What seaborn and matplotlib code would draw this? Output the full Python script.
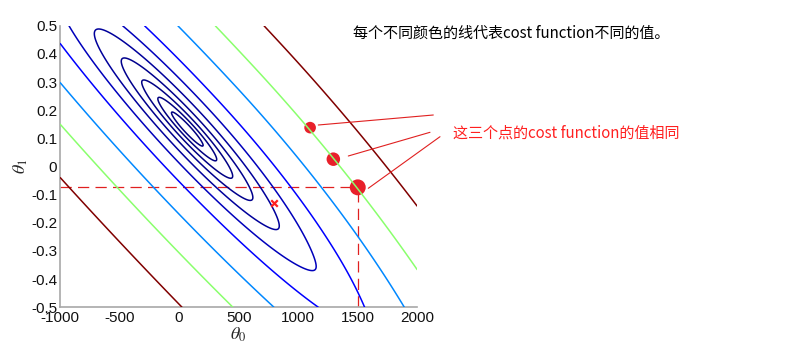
import numpy as np
import pandas as pd
import matplotlib
matplotlib.use("Agg")
import matplotlib.pyplot as plt
import seaborn as sns
from matplotlib.colors import Normalize
from matplotlib.lines import Line2D

# ---------------- data ----------------
theta0_range = [-1000, 2000]
theta1_range = [-0.5, 0.5]
# cost surface J(theta0, theta1), read from the contour shapes:
# centre, long-axis / short-axis coefficients, axis ratio and the slight
# bend of the upper-right flank
cost_center = [69.0, 0.133]
long_axis = [0.08092, -206.6]
short_axis = [-0.08738, -191.3]
axis_ratio = 6.5
bend = 1.3e-4
bend_softness = 4.0
cost_levels = [529, 1832, 4382, 9197, 18225, 36100, 74529, 175561, 350464, 675684]

same_cost_theta0 = [1100, 1295, 1500]
same_cost_theta1 = [0.138, 0.026, -0.074]
same_cost_size = [69, 94, 132]
min_theta0 = [800]
min_theta1 = [-0.13]

xticks = [-1000, -500, 0, 500, 1000, 1500, 2000]
xtick_labels = ["-1000", "-500", "0", "500", "1000", "1500", "2000"]
yticks = [-0.5, -0.4, -0.3, -0.2, -0.1, 0, 0.1, 0.2, 0.3, 0.4, 0.5]
ytick_labels = ["-0.5", "-0.4", "-0.3", "-0.2", "-0.1", "0", "0.1", "0.2", "0.3", "0.4", "0.5"]

note_top = "每个不同颜色的线代表cost function不同的值。"
note_red = "这三个点的cost function的值相同"

# ---------------- style ----------------
sns.set_theme(style="white")
plt.rcParams["font.family"] = ["Liberation Sans", "DejaVu Sans"]
plt.rcParams["axes.unicode_minus"] = False
plt.rcParams["mathtext.fontset"] = "stix"

W, H = 812, 346
fig = plt.figure(figsize=(W / 100, H / 100), dpi=100)
ax = fig.add_axes([60 / W, 1 - 307.3 / H, (417.3 - 60) / W, (307.3 - 25.7) / H])

# contour grid
t0 = np.linspace(theta0_range[0], theta0_range[1], 700)
t1 = np.linspace(theta1_range[0], theta1_range[1], 700)
T0, T1 = np.meshgrid(t0, t1)
d0 = T0 - cost_center[0]
d1 = T1 - cost_center[1]
s = long_axis[0] * d0 + long_axis[1] * d1
t = short_axis[0] * d0 + short_axis[1] * d1
upper = 1.0 / (1.0 + np.exp(np.clip(t / bend_softness, -50, 50)))
t_eff = t - bend * np.maximum(s, 0) ** 2 * upper
J = s ** 2 + axis_ratio ** 2 * t_eff ** 2

ax.contour(T0, T1, J, levels=cost_levels, cmap="jet",
           norm=Normalize(vmin=min(cost_levels), vmax=max(cost_levels)),
           linewidths=1.1, zorder=3)

# dashed guide lines to the third point
guide_h = pd.DataFrame({"x": [theta0_range[0], same_cost_theta0[2]],
                        "y": [same_cost_theta1[2], same_cost_theta1[2]]})
guide_v = pd.DataFrame({"x": [same_cost_theta0[2], same_cost_theta0[2]],
                        "y": [theta1_range[0], same_cost_theta1[2]]})
for g in (guide_h, guide_v):
    sns.lineplot(data=g, x="x", y="y", ax=ax, color="#e02020", lw=0.9,
                 dashes=False, sort=False, estimator=None, zorder=2)
for l in ax.lines:
    l.set_dashes((9, 5))

# the three equal-cost points
pts = pd.DataFrame({"t0": same_cost_theta0, "t1": same_cost_theta1,
                    "sz": same_cost_size})
sns.scatterplot(data=pts, x="t0", y="t1", size="sz", sizes=(70, 132),
                color="#e8202a", edgecolor="none", legend=False, ax=ax, zorder=2)

# minimum marker
sns.scatterplot(x=min_theta0, y=min_theta1, marker="x", s=22, color="#ff2020",
                linewidth=1.6, ax=ax, zorder=4, legend=False)

ax.set_xlim(theta0_range)
ax.set_ylim(theta1_range)
ax.set_xticks(xticks)
ax.set_xticklabels(xtick_labels)
ax.set_yticks(yticks)
ax.set_yticklabels(ytick_labels)
ax.tick_params(axis="both", direction="in", length=4, width=0.8, color="#a0a0a0",
               labelsize=11, labelcolor="#111111", pad=2)
ax.tick_params(axis="x", pad=3)
for side in ("top", "right"):
    ax.spines[side].set_visible(False)
for side in ("left", "bottom"):
    ax.spines[side].set_color("#a8a8a8")
    ax.spines[side].set_linewidth(1.2)

ax.set_xlabel(r"$\theta_0$", fontsize=13, labelpad=0)
ax.set_ylabel(r"$\theta_1$", fontsize=13, labelpad=1)

# annotations (figure pixel coords)
def fx(px):
    return px / W

def fy(py):
    return 1 - py / H

for (x0, y0), (x1, y1) in [((318.3, 125), (433.3, 115)),
                           ((348.3, 156), (430, 132.3)),
                           ((368.3, 188.3), (440, 136.7))]:
    fig.add_artist(Line2D([fx(x0), fx(x1)], [fy(y0), fy(y1)], color="#e02020", lw=0.8))

fig.text(fx(353), fy(33.5), note_top, fontsize=10.85, color="black", va="center", ha="left",
         family=["Noto Sans CJK SC", "DejaVu Sans"])
fig.text(fx(453), fy(133), note_red, fontsize=10.85, color="#ff2020", va="center", ha="left",
         family=["Noto Sans CJK SC", "DejaVu Sans"])

fig.savefig("out.png", dpi=100, facecolor="white")
